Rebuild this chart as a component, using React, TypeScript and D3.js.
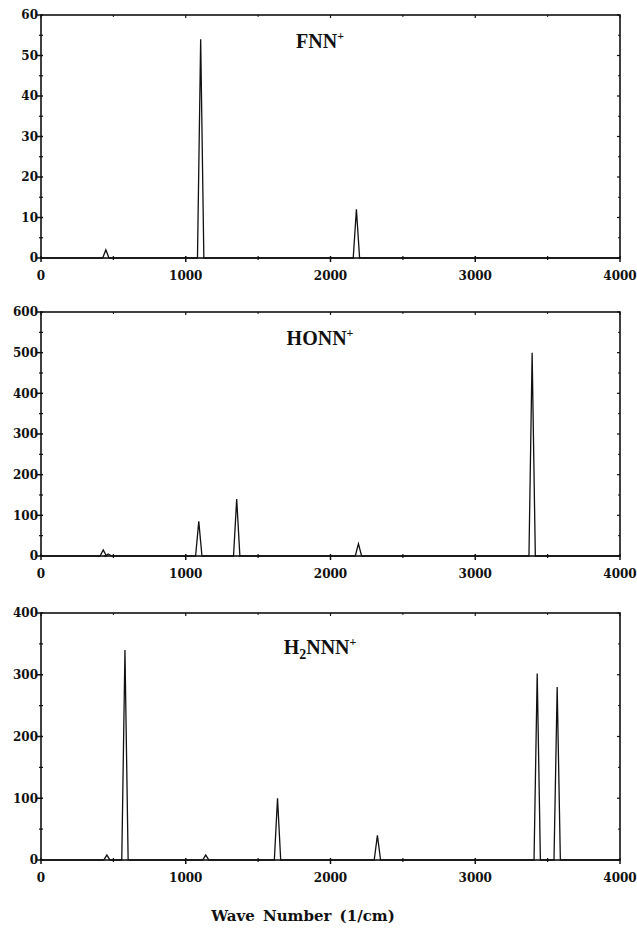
import React from "react";
import * as d3 from "d3";

// Vibrational frequencies (1/cm) and IR intensities for each ion
const fnnFreq = [448, 1103, 2179];
const fnnInt = [2, 54, 12];

const honnFreq = [430, 465, 1090, 1352, 2193, 3393];
const honnInt = [15, 5, 85, 140, 30, 500];

const h2nnnFreq = [455, 580, 1138, 1634, 2324, 3428, 3566];
const h2nnnInt = [8, 340, 8, 100, 40, 302, 280];

const xTicks = [0, 1000, 2000, 3000, 4000];
const fnnTicks = [0, 10, 20, 30, 40, 50, 60];
const honnTicks = [0, 100, 200, 300, 400, 500, 600];
const h2nnnTicks = [0, 100, 200, 300, 400];

const xLabel = "Wave Number (1/cm)";

// half width of each triangular band, in 1/cm
const HALF_WIDTH = 22;

type Panel = {
  key: string;
  freq: number[];
  inten: number[];
  yTicks: number[];
  top: number;
  bottom: number;
  titleDy: number;
  title: React.ReactNode;
};

const W = 637;
const H = 931;
const LEFT = 41;
const RIGHT = 620;

const serifBold = "'Liberation Serif', 'Times New Roman', serif";
const tickFont = "'DejaVu Serif', serif";

function Spectrum({ p }: { p: Panel }) {
  const x = d3.scaleLinear().domain([0, 4000]).range([LEFT, RIGHT]);
  const yMax = p.yTicks[p.yTicks.length - 1];
  const y = d3.scaleLinear().domain([0, yMax]).range([p.bottom, p.top]);

  // baseline with a triangular band at each frequency
  const order = d3.range(p.freq.length).sort((a, b) => p.freq[a] - p.freq[b]);
  const pts: [number, number][] = [[0, 0]];
  order.forEach((i) => {
    pts.push([p.freq[i] - HALF_WIDTH, 0]);
    pts.push([p.freq[i], p.inten[i]]);
    pts.push([p.freq[i] + HALF_WIDTH, 0]);
  });
  pts.push([4000, 0]);
  const line = d3
    .line<[number, number]>()
    .x((d) => x(d[0]))
    .y((d) => y(d[1]));

  const step = p.yTicks[1] - p.yTicks[0];
  const yMinor = d3.range(step / 2, yMax, step);
  const xMinor = d3.range(500, 4000, 1000);

  return (
    <g>
      {/* frame */}
      <rect
        x={LEFT}
        y={p.top}
        width={RIGHT - LEFT}
        height={p.bottom - p.top}
        fill="none"
        stroke="#111"
        strokeWidth={1.6}
      />
      {/* spectrum */}
      <path d={line(pts) || ""} fill="none" stroke="#111" strokeWidth={1.3} strokeLinejoin="miter" />
      {/* y ticks */}
      {p.yTicks.map((t) => (
        <g key={"y" + t}>
          <line x1={LEFT - 4} x2={LEFT + 2} y1={y(t)} y2={y(t)} stroke="#111" strokeWidth={1.5} />
          <line x1={RIGHT - 3} x2={RIGHT} y1={y(t)} y2={y(t)} stroke="#111" strokeWidth={1.2} />
          <text
            x={LEFT - 3}
            y={y(t)}
            dy="0.36em"
            textAnchor="end"
            fontFamily={tickFont}
            fontWeight="bold"
            fontSize={12}
            fill="#111"
          >
            {t}
          </text>
        </g>
      ))}
      {yMinor.map((t) => (
        <g key={"ym" + t}>
          <line x1={LEFT - 2} x2={LEFT + 2} y1={y(t)} y2={y(t)} stroke="#111" strokeWidth={1.2} />
          <line x1={RIGHT - 2} x2={RIGHT} y1={y(t)} y2={y(t)} stroke="#111" strokeWidth={1} />
        </g>
      ))}
      {/* x ticks */}
      {xTicks.map((t) => (
        <g key={"x" + t}>
          <line x1={x(t)} x2={x(t)} y1={p.bottom - 2} y2={p.bottom + 4} stroke="#111" strokeWidth={1.5} />
          <line x1={x(t)} x2={x(t)} y1={p.top} y2={p.top + 3} stroke="#111" strokeWidth={1.2} />
          <text
            x={x(t)}
            y={p.bottom + 18}
            dy="0.36em"
            textAnchor="middle"
            fontFamily={tickFont}
            fontWeight="bold"
            fontSize={12}
            fill="#111"
          >
            {t}
          </text>
        </g>
      ))}
      {xMinor.map((t) => (
        <g key={"xm" + t}>
          <line x1={x(t)} x2={x(t)} y1={p.bottom - 2} y2={p.bottom + 2} stroke="#111" strokeWidth={1.2} />
          <line x1={x(t)} x2={x(t)} y1={p.top} y2={p.top + 2} stroke="#111" strokeWidth={1} />
        </g>
      ))}
      {/* molecule label */}
      <text
        x={320}
        y={p.top + p.titleDy}
        textAnchor="middle"
        fontFamily={serifBold}
        fontWeight="bold"
        fontSize={20}
        fill="#111"
      >
        {p.title}
      </text>
    </g>
  );
}

export default function App() {
  const panels: Panel[] = [
    {
      key: "fnn",
      freq: fnnFreq,
      inten: fnnInt,
      yTicks: fnnTicks,
      top: 15,
      bottom: 258,
      titleDy: 33,
      title: (
        <>
          FNN
          <tspan fontSize={12} dy={-8}>+</tspan>
        </>
      ),
    },
    {
      key: "honn",
      freq: honnFreq,
      inten: honnInt,
      yTicks: honnTicks,
      top: 312,
      bottom: 556,
      titleDy: 33,
      title: (
        <>
          HONN
          <tspan fontSize={12} dy={-8}>+</tspan>
        </>
      ),
    },
    {
      key: "h2nnn",
      freq: h2nnnFreq,
      inten: h2nnnInt,
      yTicks: h2nnnTicks,
      top: 613,
      bottom: 860,
      titleDy: 41,
      title: (
        <>
          H
          <tspan fontSize={14} dy={5}>2</tspan>
          <tspan dy={-5}>NNN</tspan>
          <tspan fontSize={12} dy={-8}>+</tspan>
        </>
      ),
    },
  ];

  return (
    <svg
      width={W}
      height={H}
      viewBox={`0 0 ${W} ${H}`}
      style={{ position: "absolute", left: 0, top: 0, background: "#fff" }}
    >
      <rect width={W} height={H} fill="#fff" />
      {panels.map((p) => (
        <Spectrum key={p.key} p={p} />
      ))}
      <text
        x={303}
        y={921}
        textAnchor="middle"
        fontFamily={tickFont}
        fontWeight="bold"
        fontSize={15}
        wordSpacing={3}
        fill="#111"
      >
        {xLabel}
      </text>
    </svg>
  );
}
